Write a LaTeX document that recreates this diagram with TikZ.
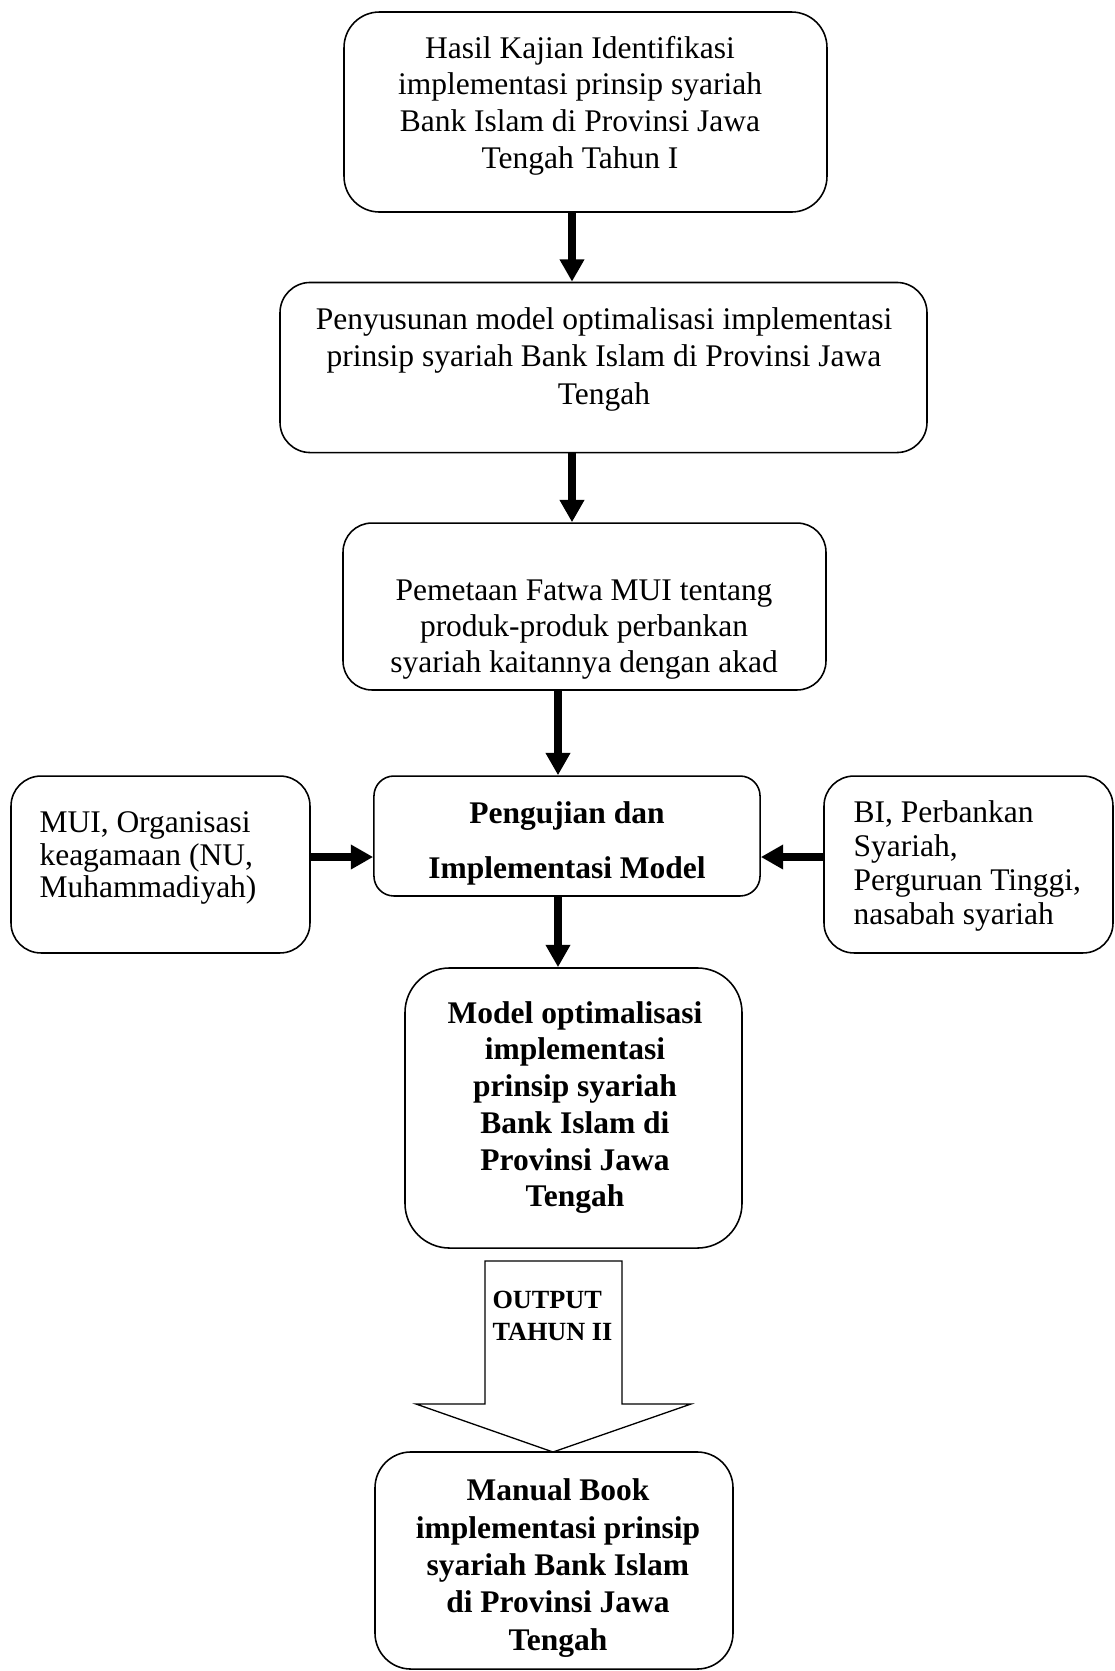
\documentclass[tikz,border=0pt]{standalone}
\usepackage{fontspec}
\setmainfont{Liberation Serif}
\usetikzlibrary{arrows.meta}
\begin{document}
\begin{tikzpicture}[x=0.381pt,y=-0.381pt,
  box/.style={draw, line width=0.6pt, inner sep=0pt, rectangle, rounded corners=#1},
  box/.default=11pt,
  txt/.style={inner sep=0pt, font=\fontsize{12}{14}\selectfont, align=center},
  btxt/.style={inner sep=0pt, font=\fontsize{12}{14}\selectfont\bfseries, align=center},
  arr/.style={line width=3.2pt, -{Triangle[width=8.9pt,length=8.5pt]}},
]
\useasboundingbox (0,0) rectangle (1115,1671);

% boxes
\node[box=13.5pt, minimum width=184pt, minimum height=76.2pt] (b1) at (585.5,112) {};
\node[box=11.5pt, minimum width=246.5pt, minimum height=64.8pt] (b2) at (603.5,367.5) {};
\node[box=11pt, minimum width=184pt, minimum height=63.6pt] (b3) at (584.5,606.5) {};
\node[box=7.6pt, minimum width=147.1pt, minimum height=45.7pt] (b4) at (567,836) {};
\node[box=11.4pt, minimum width=113.9pt, minimum height=67.4pt] (L) at (160.5,864.5) {};
\node[box=11.4pt, minimum width=110.1pt, minimum height=67.4pt] (R) at (968.5,864.5) {};
\node[box=17pt, minimum width=128.4pt, minimum height=106.7pt] (b5) at (573.5,1108) {};
\node[box=13.7pt, minimum width=136.4pt, minimum height=82.7pt] (b6) at (554,1560.5) {};

% texts
\node[txt, font=\fontsize{12}{14}\selectfont] (t1) at (580,105.5)
  {Hasil Kajian Identifikasi\\implementasi prinsip syariah\\Bank Islam di Provinsi Jawa\\Tengah Tahun I};
\node[txt, font=\fontsize{12}{14.3}\selectfont] (t2) at (604,359)
  {Penyusunan model optimalisasi implementasi\\prinsip syariah Bank Islam di Provinsi Jawa\\Tengah};
\node[txt, font=\fontsize{12}{13.7}\selectfont] (t3) at (584,629.5)
  {Pemetaan Fatwa MUI tentang\\produk-produk perbankan\\syariah kaitannya dengan akad};
\node[btxt, font=\fontsize{12}{21}\selectfont\bfseries] (t4) at (567,843)
  {Pengujian dan\\Implementasi Model};
\node[txt, align=left, anchor=west, font=\fontsize{12}{12.4}\selectfont] (tL) at (39,858)
  {MUI, Organisasi\\keagamaan (NU,\\Muhammadiyah)};
\node[txt, align=left, anchor=west, font=\fontsize{12}{13}\selectfont] (tR) at (853,866)
  {BI, Perbankan\\Syariah,\\Perguruan Tinggi,\\nasabah syariah};
\node[btxt, font=\fontsize{12}{14}\selectfont\bfseries] (t5) at (575,1107.5)
  {Model optimalisasi\\implementasi\\prinsip syariah\\Bank Islam di\\Provinsi Jawa\\Tengah};
\node[btxt, font=\fontsize{12}{14.2}\selectfont\bfseries] (t6) at (558,1568)
  {Manual Book\\implementasi prinsip\\syariah Bank Islam\\di Provinsi Jawa\\Tengah};

% connectors
\coordinate (x1) at (572,0);
\coordinate (x3) at (558,0);
\coordinate (yL) at (0,857);
\draw[arr] (b1.south -| x1) -- (b2.north -| x1);
\draw[arr] (b2.south -| x1) -- (b3.north -| x1);
\draw[arr] (b3.south -| x3) -- (b4.north -| x3);
\draw[arr] (b4.south -| x3) -- (b5.north -| x3);
\draw[arr] (L.east |- yL) -- (b4.west |- yL);
\draw[arr] (R.west |- yL) -- (b4.east |- yL);

% big output arrow
\draw[line width=0.5pt, fill=white] (485,1261) -- (622,1261) -- (622,1404) -- (691,1404)
  -- (553,1452) -- (416,1404) -- (485,1404) -- cycle;
\node[btxt, align=left, anchor=west, font=\fontsize{10}{12.4}\selectfont\bfseries] (tO) at (492,1316)
  {OUTPUT\\TAHUN II};
\end{tikzpicture}
\end{document}
